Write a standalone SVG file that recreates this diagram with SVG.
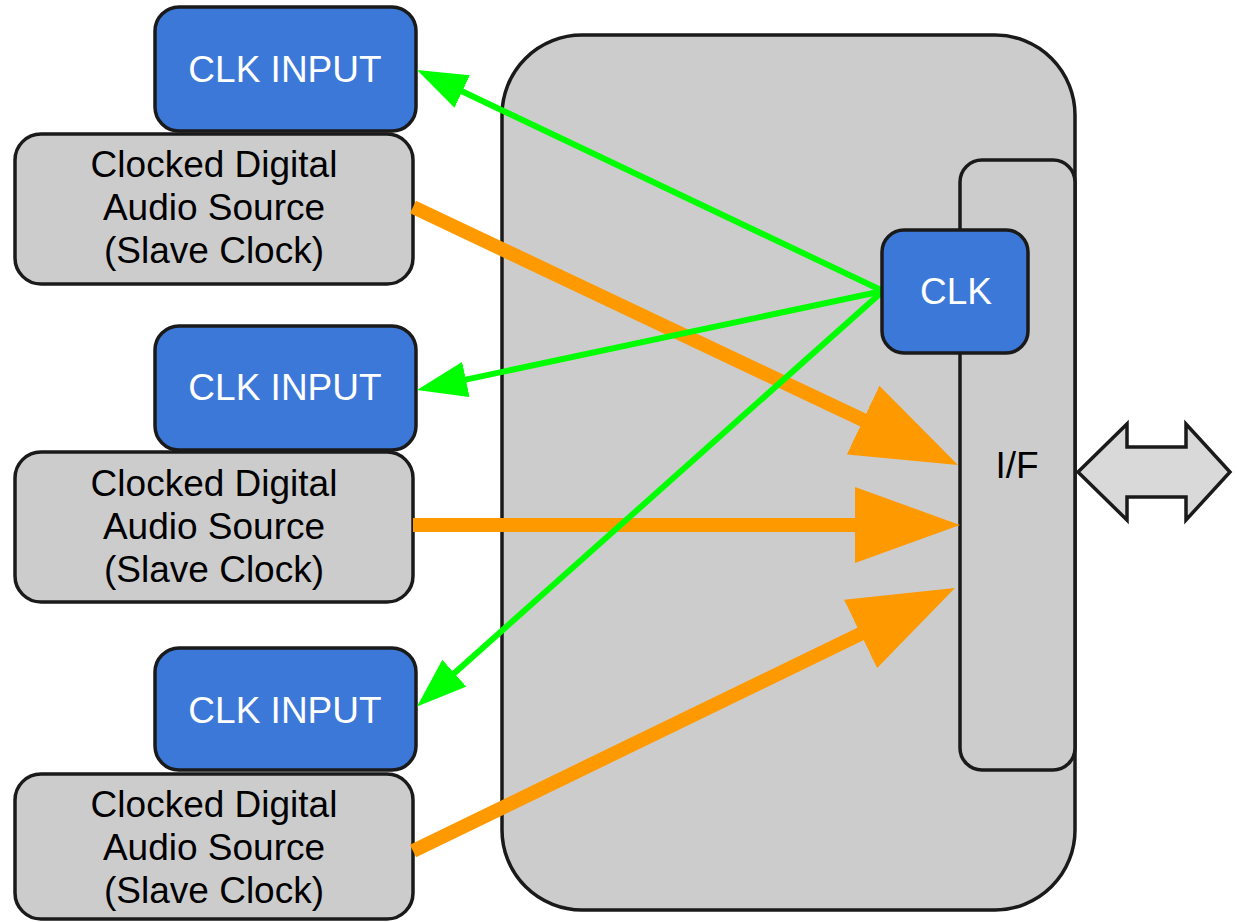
<svg xmlns="http://www.w3.org/2000/svg" width="1237" height="922" viewBox="0 0 1237 922">
  <style>
    .box { stroke: #1a1a1a; stroke-width: 3.5; }
    .blue { fill: #3c78d8; }
    .grey { fill: #cccccc; }
    .lbl { font-family: "Liberation Sans", Arial, sans-serif; font-size: 37px; text-anchor: middle; }
    .wht { fill: #ffffff; }
    .blk { fill: #000000; }
    .audio { stroke: #ff9900; stroke-width: 14; fill: none; }
    .clock { stroke: #00ff00; stroke-width: 6; fill: none; }
  </style>
  <defs>
    <marker id="orangeHead" markerUnits="userSpaceOnUse" viewBox="0 0 105 76" markerWidth="105" markerHeight="76" refX="5" refY="38" orient="auto">
      <path d="M0,0 L105,38 L0,76 z" fill="#ff9900"/>
    </marker>
    <marker id="greenHead" markerUnits="userSpaceOnUse" viewBox="0 0 50 36" markerWidth="50" markerHeight="36" refX="5" refY="18" orient="auto">
      <path d="M0,0 L50,18 L0,36 z" fill="#00ff00"/>
    </marker>
  </defs>

  <!-- main unit -->
  <g id="unit">
    <rect class="box grey" x="502" y="35" width="573" height="875" rx="80" ry="80"/>
  </g>
  <g id="interface">
    <rect class="box grey" x="960" y="160" width="115" height="610" rx="22" ry="22"/>
    <text class="lbl blk" x="1017" y="478">I/F</text>
  </g>

  <!-- external port -->
  <g id="port">
    <polygon class="box" fill="#d9d9d9" points="1078,472 1127,424 1127,447 1186,447 1186,424 1230,472 1186,520 1186,497 1127,497 1127,520"/>
  </g>

  <!-- left-hand sources -->
  <g id="clk-input-1">
    <rect class="box blue" x="155" y="7" width="261" height="124" rx="24" ry="24"/>
    <text class="lbl wht" x="285" y="82">CLK INPUT</text>
  </g>
  <g id="source-1">
    <rect class="box grey" x="15" y="134" width="398" height="150" rx="26" ry="26"/>
    <text class="lbl blk" x="214" y="177">Clocked Digital</text>
    <text class="lbl blk" x="214" y="220">Audio Source</text>
    <text class="lbl blk" x="214" y="263">(Slave Clock)</text>
  </g>
  <g id="clk-input-2">
    <rect class="box blue" x="155" y="326" width="261" height="124" rx="24" ry="24"/>
    <text class="lbl wht" x="285" y="400">CLK INPUT</text>
  </g>
  <g id="source-2">
    <rect class="box grey" x="15" y="452" width="398" height="150" rx="26" ry="26"/>
    <text class="lbl blk" x="214" y="496">Clocked Digital</text>
    <text class="lbl blk" x="214" y="539">Audio Source</text>
    <text class="lbl blk" x="214" y="582">(Slave Clock)</text>
  </g>
  <g id="clk-input-3">
    <rect class="box blue" x="155" y="648" width="261" height="122" rx="24" ry="24"/>
    <text class="lbl wht" x="285" y="723">CLK INPUT</text>
  </g>
  <g id="source-3">
    <rect class="box grey" x="15" y="774" width="398" height="145" rx="26" ry="26"/>
    <text class="lbl blk" x="214" y="817">Clocked Digital</text>
    <text class="lbl blk" x="214" y="860">Audio Source</text>
    <text class="lbl blk" x="214" y="903">(Slave Clock)</text>
  </g>

  <!-- connectors -->
  <g id="connectors">
    <line class="audio" x1="413" y1="207" x2="867.6" y2="422.2" marker-end="url(#orangeHead)"/>
    <line class="audio" x1="413" y1="525" x2="860" y2="525" marker-end="url(#orangeHead)"/>
    <line class="audio" x1="413" y1="851" x2="865" y2="631.7" marker-end="url(#orangeHead)"/>
    <line class="clock" x1="883" y1="291" x2="457.7" y2="89.3" marker-end="url(#greenHead)"/>
    <line class="clock" x1="883" y1="291" x2="461" y2="380.6" marker-end="url(#greenHead)"/>
    <line class="clock" x1="883" y1="291" x2="450.6" y2="676.5" marker-end="url(#greenHead)"/>
  </g>

  <!-- internal clock -->
  <g id="clk">
    <rect class="box blue" x="882" y="230" width="146" height="123" rx="22" ry="22"/>
    <text class="lbl wht" x="956" y="304">CLK</text>
  </g>
</svg>
